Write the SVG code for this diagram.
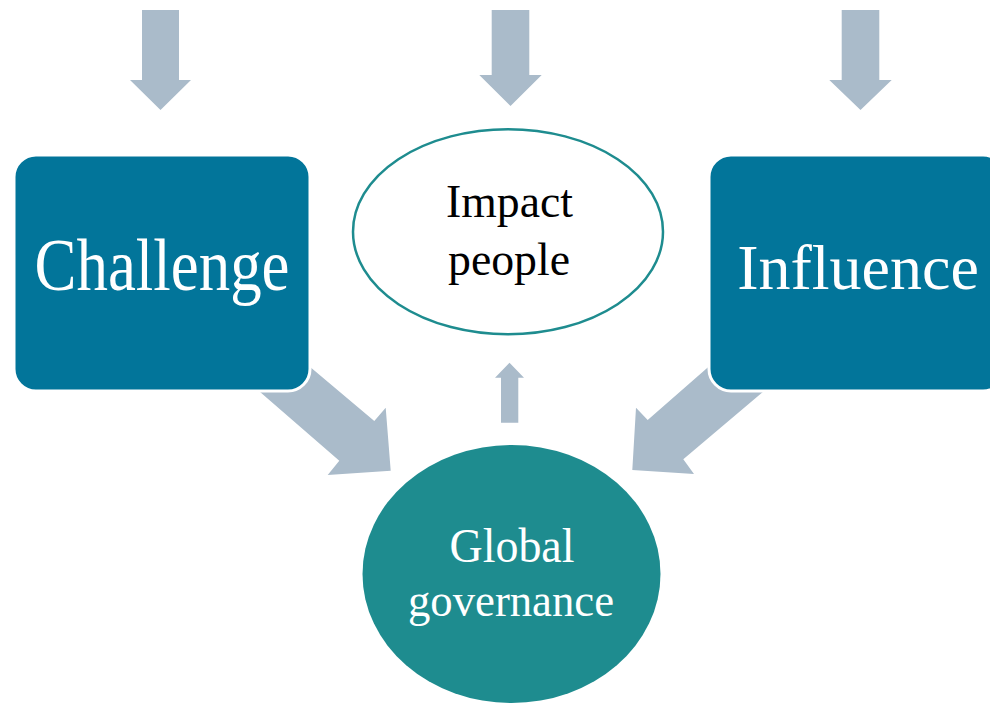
<svg xmlns="http://www.w3.org/2000/svg" width="990" height="704" viewBox="0 0 990 704">
<style>
.arrow{fill:#AABBCA;stroke:none}
.box{fill:#02759A;stroke:#FFFFFF;stroke-width:3}
.big{font-family:"Liberation Serif","Times New Roman",serif;fill:#FFFFFF;text-anchor:middle}
.mid{font-family:"Liberation Serif","Times New Roman",serif;text-anchor:middle}
</style>
<rect width="990" height="704" fill="#FFFFFF"/>
<g id="connectors">
<polygon class="arrow" points="142,10 179,10 179,80 191,80 160.5,110 130,80 142,80"/>
<polygon class="arrow" points="491.7,10 529.3,10 529.3,75 541.7,75 510.5,106 479.3,75 491.7,75"/>
<polygon class="arrow" points="841.7,10 879.3,10 879.3,80 891.7,80 860.5,110 829.3,80 841.7,80"/>
<polygon class="arrow" points="290,350 374.3,421 385.7,407.7 390.7,470.7 327.7,475 339.3,460.7 240,374.5"/>
<polygon class="arrow" points="730,348 647.7,420 636,407.7 632.3,470 694,474 683.3,459.3 780,377.5"/>
<polygon class="arrow" points="501,422.7 518.3,422.7 518.3,377.7 524,377.7 509.5,362.7 495,377.7 501,377.7"/>
</g>
<g id="challenge">
<rect class="box" x="14" y="155" width="296" height="236" rx="22" ry="22"/>
<text class="big" x="162" y="290" font-size="73" textLength="255" lengthAdjust="spacingAndGlyphs">Challenge</text>
</g>
<g id="influence">
<rect class="box" x="709" y="155" width="296" height="236" rx="22" ry="22"/>
<text class="big" x="858" y="289" font-size="64">Influence</text>
</g>
<g id="impact">
<ellipse cx="508" cy="231.7" rx="155" ry="102.5" fill="#FFFFFF" stroke="#1E8C8F" stroke-width="2.5"/>
<text class="mid" x="509.5" y="217" font-size="46" fill="#000000" textLength="127" lengthAdjust="spacingAndGlyphs">Impact</text>
<text class="mid" x="509" y="275" font-size="46" fill="#000000" textLength="122" lengthAdjust="spacingAndGlyphs">people</text>
</g>
<g id="global">
<ellipse cx="511.5" cy="574" rx="149" ry="129" fill="#1E8C8F"/>
<text class="big" x="512" y="561.7" font-size="48" textLength="125" lengthAdjust="spacingAndGlyphs">Global</text>
<text class="big" x="511" y="616" font-size="47" textLength="206" lengthAdjust="spacingAndGlyphs">governance</text>
</g>
</svg>
